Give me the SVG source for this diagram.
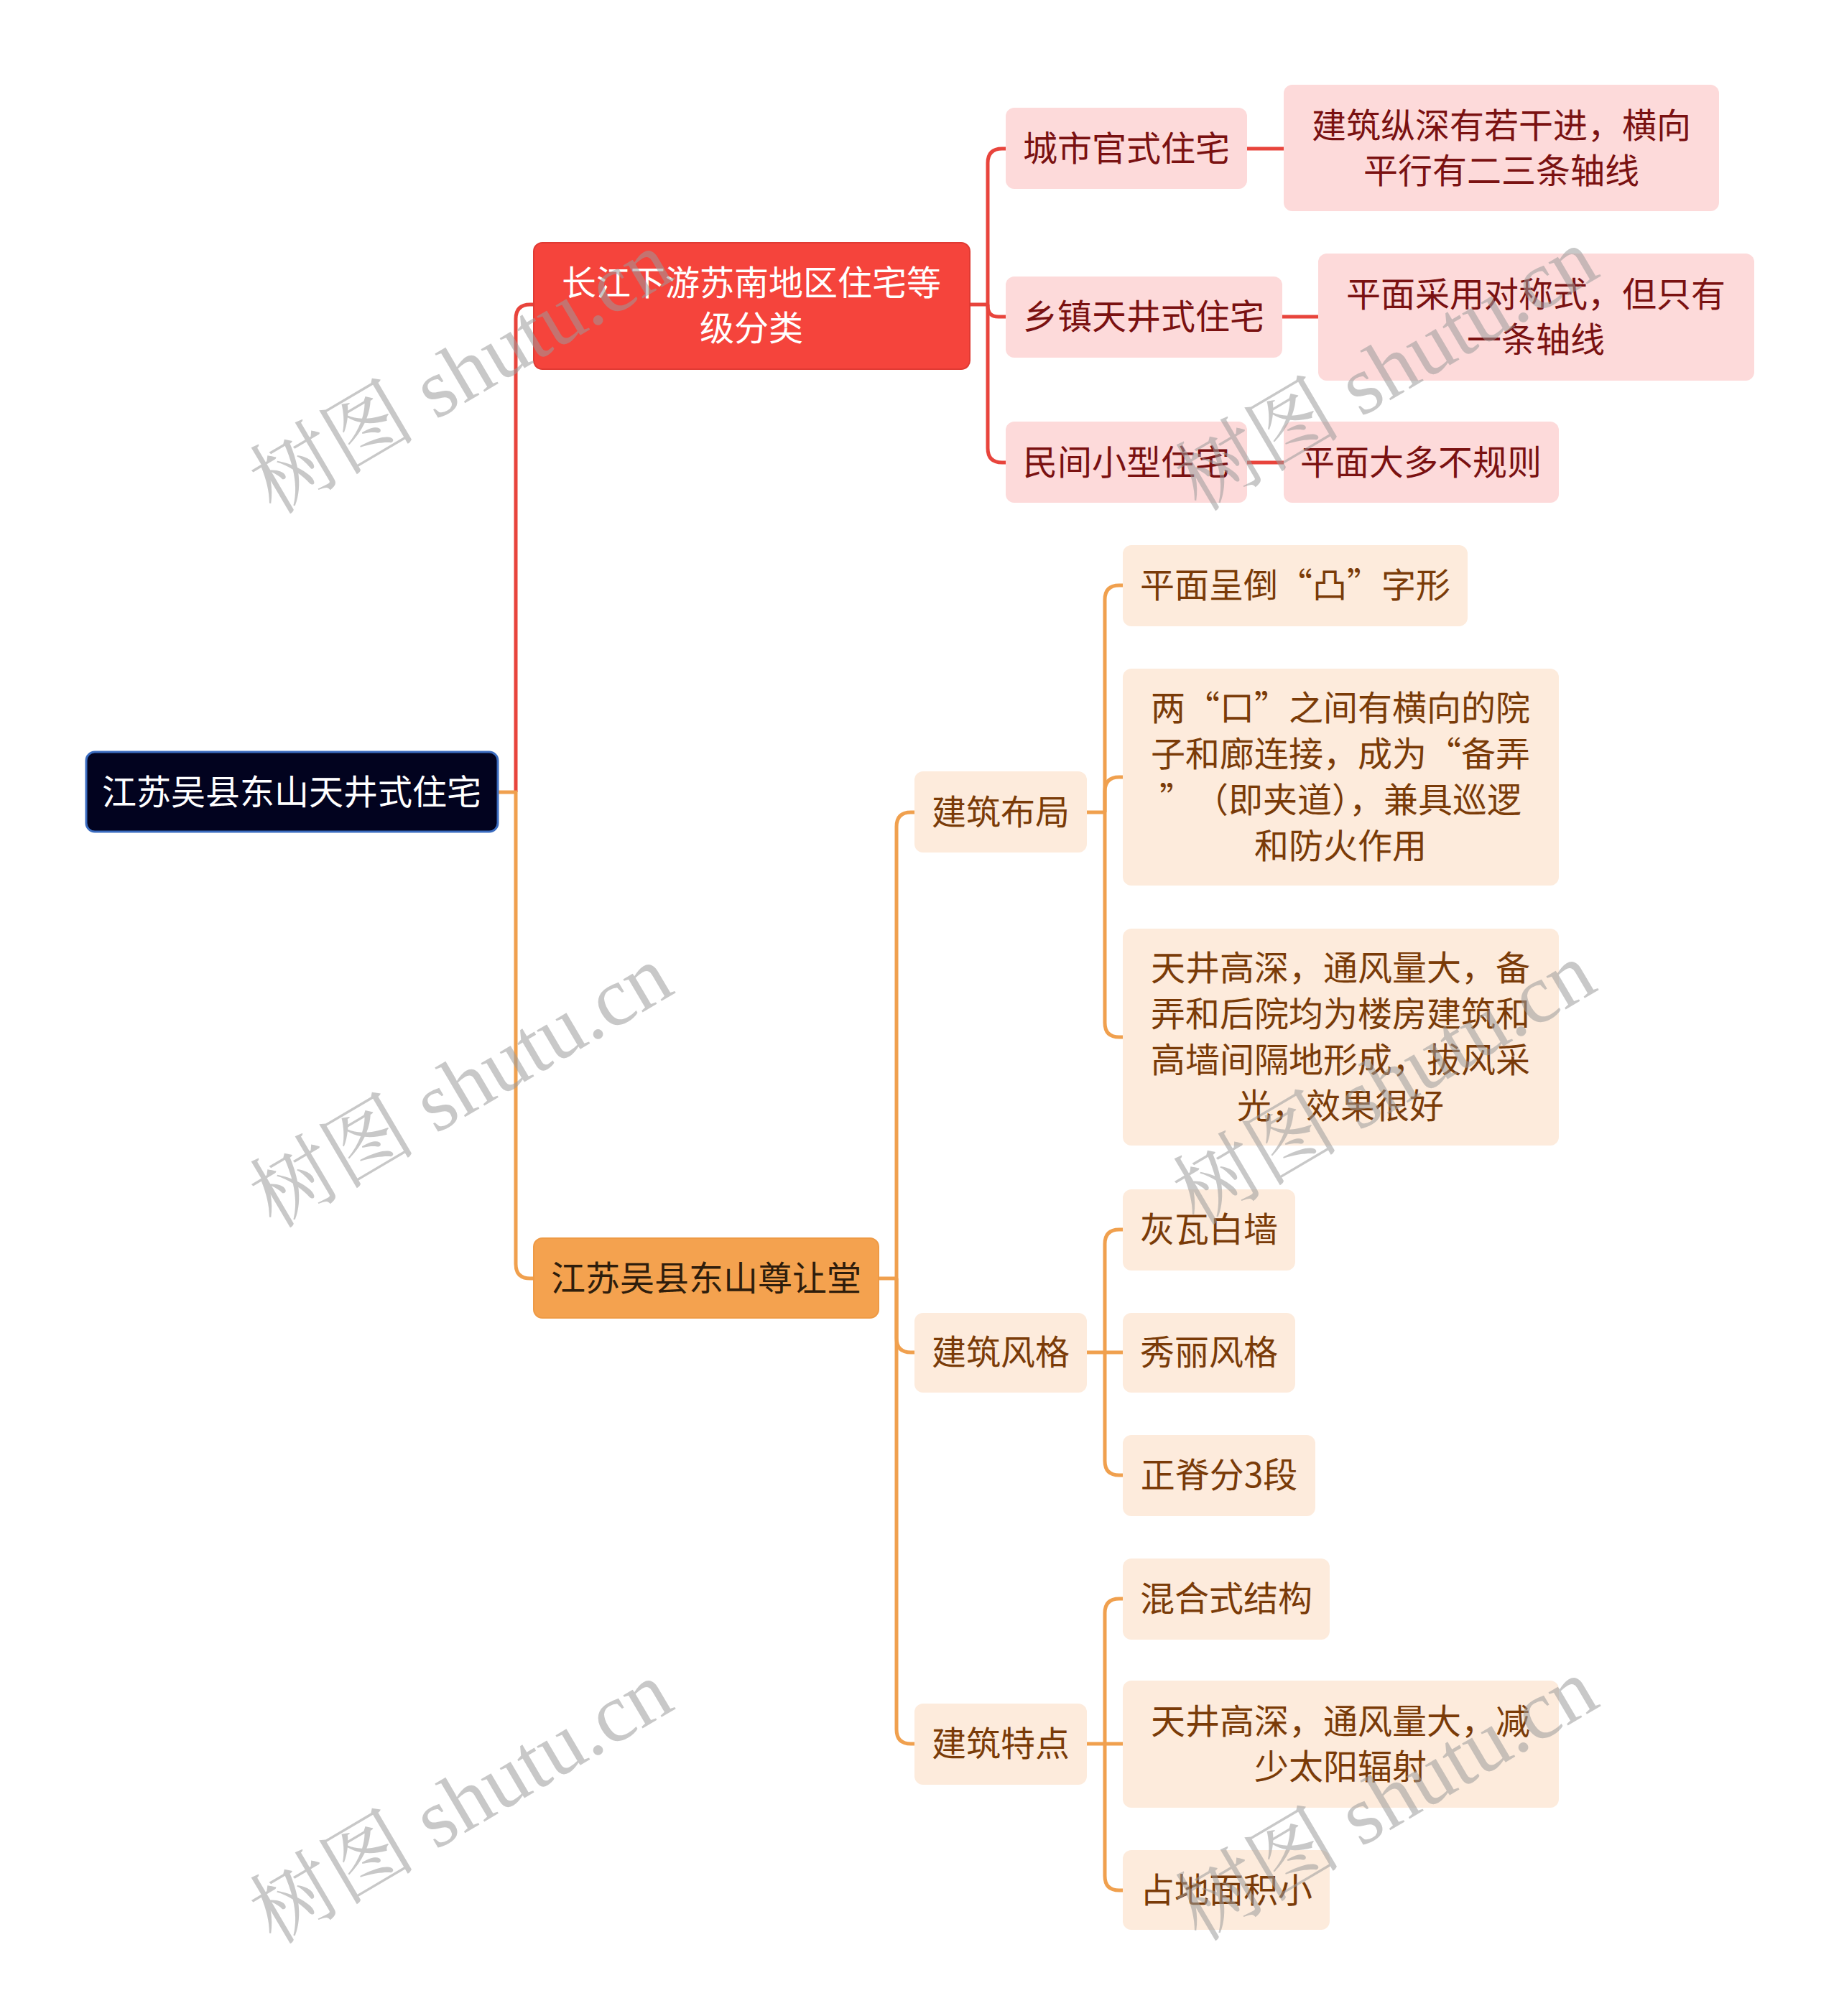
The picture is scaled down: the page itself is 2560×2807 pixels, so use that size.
<svg xmlns="http://www.w3.org/2000/svg" width="2560" height="2807" viewBox="0 0 2560 2807">
<style>
text{font-family:"Noto Sans CJK SC","Noto Sans",sans-serif;font-size:48px;text-anchor:middle;dominant-baseline:central}
.root rect{fill:#02031f;stroke:#3b6cc0;stroke-width:3}
.root text{fill:#ffffff}
.m1 rect{fill:#f5443c;stroke:#e03a33;stroke-width:2}
.m1 text{fill:#ffffff}
.m2 rect{fill:#f4a24f;stroke:#ee9a45;stroke-width:2}
.m2 text{fill:#2e1d0c}
.rs rect{fill:#fddada}
.rs text{fill:#7a1111}
.os rect{fill:#fdebdc}
.os text{fill:#7a3b08}
.cr{fill:none;stroke:#e8443c;stroke-width:5}
.co{fill:none;stroke:#f0a04e;stroke-width:5}
.wm text{font-family:"Liberation Serif","Noto Serif CJK SC","Noto Sans CJK SC",serif;font-size:116px;fill:#9a9a9a;fill-opacity:0.55}
</style>
<g id="connectors">
<path class="cr" d="M718 1103 V444 Q718 424 738 424 H743"/>
<path class="co" d="M693 1103 H718 V1760 Q718 1780 738 1780 H743"/>
<path class="cr" d="M1350 424 H1375"/>
<path class="cr" d="M1400 207 H1395 Q1375 207 1375 227 V624 Q1375 644 1395 644 H1400"/>
<path class="cr" d="M1375 424 V426 Q1375 441 1390 441 H1400"/>
<path class="cr" d="M1736 207 H1787"/>
<path class="cr" d="M1785 441 H1835"/>
<path class="cr" d="M1736 644 H1787"/>
<path class="co" d="M1223 1780 H1248"/>
<path class="co" d="M1273 1131 H1268 Q1248 1131 1248 1151 V2408 Q1248 2428 1268 2428 H1273"/>
<path class="co" d="M1248 1780 V1863 Q1248 1883 1268 1883 H1273"/>
<path class="co" d="M1513 1131 H1538"/>
<path class="co" d="M1563 815 H1558 Q1538 815 1538 835 V1424 Q1538 1444 1558 1444 H1563"/>
<path class="co" d="M1538 1131 V1102 Q1538 1082 1558 1082 H1563"/>
<path class="co" d="M1513 1883 H1563"/>
<path class="co" d="M1563 1712 H1558 Q1538 1712 1538 1732 V2034 Q1538 2054 1558 2054 H1563"/>
<path class="co" d="M1513 2428 H1563"/>
<path class="co" d="M1563 2226 H1558 Q1538 2226 1538 2246 V2612 Q1538 2632 1558 2632 H1563"/>
</g>
<g id="root" class="root"><rect x="120" y="1047" width="573" height="111" rx="12"/><text x="406" y="1099">江苏吴县东山天井式住宅</text></g>
<g id="main1" class="m1"><rect x="743" y="338" width="607" height="176" rx="12"/><text x="1046" y="390">长江下游苏南地区住宅等</text><text x="1046" y="453">级分类</text></g>
<g id="main2" class="m2"><rect x="743" y="1724" width="480" height="111" rx="12"/><text x="983" y="1776">江苏吴县东山尊让堂</text></g>
<g id="r1" class="rs"><rect x="1400" y="150" width="336" height="113" rx="12"/><text x="1568" y="203">城市官式住宅</text></g>
<g id="r2" class="rs"><rect x="1400" y="385" width="385" height="113" rx="12"/><text x="1592" y="437">乡镇天井式住宅</text></g>
<g id="r3" class="rs"><rect x="1400" y="587" width="336" height="113" rx="12"/><text x="1568" y="640">民间小型住宅</text></g>
<g id="r1a" class="rs"><rect x="1787" y="118" width="606" height="176" rx="12"/><text x="2090" y="171">建筑纵深有若干进，横向</text><text x="2090" y="234">平行有二三条轴线</text></g>
<g id="r2a" class="rs"><rect x="1835" y="353" width="607" height="177" rx="12"/><text x="2138" y="406">平面采用对称式，但只有</text><text x="2138" y="469">一条轴线</text></g>
<g id="r3a" class="rs"><rect x="1787" y="587" width="383" height="113" rx="12"/><text x="1978" y="640">平面大多不规则</text></g>
<g id="o1" class="os"><rect x="1273" y="1074" width="240" height="113" rx="12"/><text x="1393" y="1127">建筑布局</text></g>
<g id="o2" class="os"><rect x="1273" y="1828" width="240" height="111" rx="12"/><text x="1393" y="1879">建筑风格</text></g>
<g id="o3" class="os"><rect x="1273" y="2372" width="240" height="113" rx="12"/><text x="1393" y="2424">建筑特点</text></g>
<g id="o1a" class="os"><rect x="1563" y="759" width="480" height="113" rx="12"/><text x="1803" y="811">平面呈倒“凸”字形</text></g>
<g id="o1b" class="os"><rect x="1563" y="931" width="607" height="302" rx="12"/><text x="1866" y="982">两“口”之间有横向的院</text><text x="1866" y="1046">子和廊连接，成为“备弄</text><text x="1866" y="1110">”　（即夹道），兼具巡逻</text><text x="1866" y="1174">和防火作用</text></g>
<g id="o1c" class="os"><rect x="1563" y="1293" width="607" height="302" rx="12"/><text x="1866" y="1344">天井高深，通风量大，备</text><text x="1866" y="1408">弄和后院均为楼房建筑和</text><text x="1866" y="1472">高墙间隔地形成，拔风采</text><text x="1866" y="1536">光，效果很好</text></g>
<g id="o2a" class="os"><rect x="1563" y="1656" width="240" height="113" rx="12"/><text x="1683" y="1708">灰瓦白墙</text></g>
<g id="o2b" class="os"><rect x="1563" y="1828" width="240" height="111" rx="12"/><text x="1683" y="1879">秀丽风格</text></g>
<g id="o2c" class="os"><rect x="1563" y="1998" width="268" height="113" rx="12"/><text x="1697" y="2050">正脊分3段</text></g>
<g id="o3a" class="os"><rect x="1563" y="2170" width="288" height="113" rx="12"/><text x="1707" y="2222">混合式结构</text></g>
<g id="o3b" class="os"><rect x="1563" y="2340" width="607" height="177" rx="12"/><text x="1866" y="2393">天井高深，通风量大，减</text><text x="1866" y="2456">少太阳辐射</text></g>
<g id="o3c" class="os"><rect x="1563" y="2576" width="288" height="111" rx="12"/><text x="1707" y="2628">占地面积小</text></g>
<g class="wm">
<text transform="translate(642 519) rotate(-30.5)">树图 shutu.cn</text>
<text transform="translate(642 1513) rotate(-30.5)">树图 shutu.cn</text>
<text transform="translate(642 2510) rotate(-30.5)">树图 shutu.cn</text>
<text transform="translate(1930 515) rotate(-30.5)">树图 shutu.cn</text>
<text transform="translate(1927 1509) rotate(-30.5)">树图 shutu.cn</text>
<text transform="translate(1930 2506) rotate(-30.5)">树图 shutu.cn</text>
</g>
</svg>
